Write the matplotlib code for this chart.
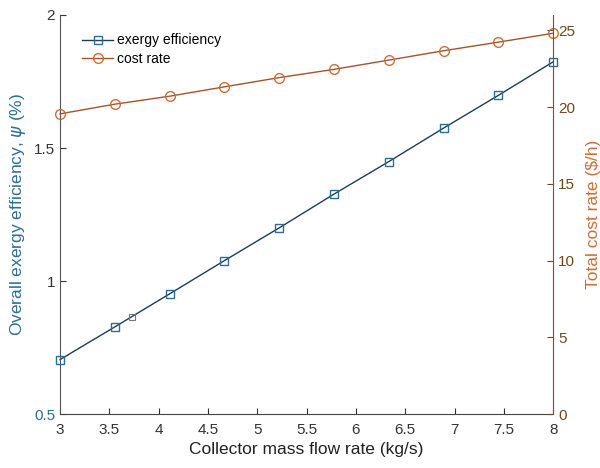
import matplotlib
matplotlib.use("Agg")
import matplotlib.pyplot as plt

plt.rcParams["font.family"] = ["Liberation Sans", "DejaVu Sans"]

# mass flow rate of the collector (kg/s)
flujo = [3.0, 3.556, 4.111, 4.667, 5.222, 5.778, 6.333, 6.889, 7.444, 8.0]
# overall exergy efficiency (%)
exergia = [0.705, 0.828, 0.952, 1.077, 1.200, 1.327, 1.449, 1.575, 1.698, 1.824]
# total cost rate ($/h)
costo = [19.56, 20.19, 20.71, 21.32, 21.92, 22.46, 23.06, 23.67, 24.23, 24.81]

# stray marker on the efficiency line
extra_x = [3.73]
extra_y = [0.867]

x_ticks = [3, 3.5, 4, 4.5, 5, 5.5, 6, 6.5, 7, 7.5, 8]
x_labels = ["3", "3.5", "4", "4.5", "5", "5.5", "6", "6.5", "7", "7.5", "8"]

azul = "#2a6f92"
linea_azul = "#1d3f52"
cafe = "#a4532c"
naranja = "#c8703a"

fig = plt.figure(figsize=(6, 4.68), dpi=100)
ax = fig.add_axes([0.1, 0.115, 0.822, 0.853])
ax2 = ax.twinx()

l1, = ax.plot(flujo, exergia, color=linea_azul, lw=1.0, marker="s", ms=6,
              mfc="none", mec=azul, mew=1.0, label="exergy efficiency", clip_on=False)
ax.plot(extra_x, extra_y, ls="none", marker="s", ms=5, mfc="none", mec="#777777", mew=0.8)
l2, = ax2.plot(flujo, costo, color=cafe, lw=1.0, marker="o", ms=7,
               mfc="none", mec=naranja, mew=1.0, label="cost rate", clip_on=False)

ax.set_xlim(3, 8)
ax.set_xticks(x_ticks)
ax.set_xticklabels(x_labels)
ax.set_ylim(0.5, 2)
ax.set_yticks([0.5, 1, 1.5, 2])
ax.set_yticklabels(["0.5", "1", "1.5", "2"])
ax2.set_ylim(0, 26)
ax2.set_yticks([0, 5, 10, 15, 20, 25])

ax.set_xlabel("Collector mass flow rate (kg/s)", fontsize=12.5, color="#222222")
ax.set_ylabel(r"Overall exergy efficiency, $\psi$ (%)", fontsize=12.5, color=azul)
ax2.set_ylabel("Total cost rate ($/h)", fontsize=12.5, color=naranja, labelpad=8)

ax.tick_params(direction="in", labelsize=11, colors="#333333", length=4, width=0.8)
ax.tick_params(axis="x", pad=6)
ax2.tick_params(direction="in", labelsize=11, colors="#6b4a1e", length=4, width=0.8)
ax.get_yticklabels()[0].set_color(azul)

for a in (ax, ax2):
    a.spines["top"].set_visible(False)
ax.spines["right"].set_visible(False)
ax.spines["left"].set_color("#555555")
ax.spines["bottom"].set_color("#444444")
ax2.spines["left"].set_visible(False)
ax2.spines["bottom"].set_visible(False)
ax2.spines["right"].set_color("#6b5a1e")

ax.legend([l1, l2], ["exergy efficiency", "cost rate"], loc="upper left",
          bbox_to_anchor=(0.02, 0.985), frameon=False, fontsize=10,
          handlelength=2.2, handletextpad=0.3, labelspacing=0.3)

fig.savefig("out.png", dpi=100)
